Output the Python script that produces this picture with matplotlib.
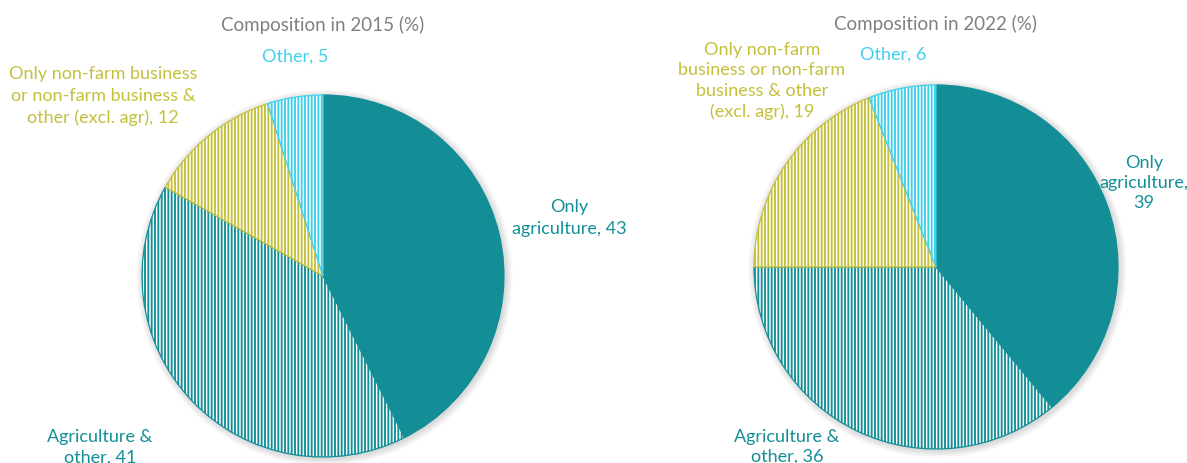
import textwrap

import matplotlib.pyplot as plt
from matplotlib.patches import Circle

plt.rcParams["font.family"] = ["Lato", "DejaVu Sans"]
plt.rcParams["hatch.linewidth"] = 1.35

# Household income-source composition (%)
categories = [
    "Only agriculture",
    "Agriculture & other",
    "Only non-farm business or non-farm business & other (excl. agr)",
    "Other",
]
values_2015 = [43, 41, 12, 5]
values_2022 = [39, 36, 19, 6]
titles = ["Composition in 2015 (%)", "Composition in 2022 (%)"]

TEAL = "#138e97"
OLIVE = "#c4c03c"
CYAN = "#3fd0ec"
colors = [TEAL, TEAL, OLIVE, CYAN]
hatched = [False, True, True, True]

W, H = 1187, 463


def draw_pie(ax, values, title, center, radius, title_y, label_pos, wrap):
    cx, cy = center[0], H - center[1]

    # soft shadow behind the disc
    for k in range(6):
        ax.add_patch(Circle((cx + 1.5, cy - 1.5), radius + 1 + k * 1.2,
                            facecolor="#000000", edgecolor="none",
                            alpha=0.025, zorder=0))

    wedges, _ = ax.pie(values, center=(cx, cy), radius=radius,
                       startangle=90, counterclock=False, frame=True,
                       normalize=True)
    for w, c, h in zip(wedges, colors, hatched):
        w.set_zorder(2)
        w.set_linewidth(0.9)
        if h:
            w.set_facecolor("white")
            w.set_edgecolor(c)
            if hasattr(w, "set_hatchcolor"):
                w.set_hatchcolor(c)
            w.set_hatch("|||||")
        else:
            w.set_facecolor(c)
            w.set_edgecolor(c)

    ax.text(center[0], H - title_y, title, ha="center", va="center",
            fontsize=13.5, color="#808080")

    for name, v, c, (x, y, ls), width in zip(categories, values, colors,
                                            label_pos, wrap):
        text = f"{name}, {v}"
        if width:
            text = textwrap.fill(text, width)
        ax.text(x, H - y, text, ha="center", va="center", fontsize=13,
                color=c, linespacing=ls, multialignment="center")


fig = plt.figure(figsize=(W / 100, H / 100), dpi=100)
ax = fig.add_axes([0, 0, 1, 1])

draw_pie(ax, values_2015, titles[0], (323, 276), 181, 25,
         [(569, 218, 1.5), (100, 447, 1.35), (103, 96, 1.45), (295, 57, 1.2)],
         [15, 14, 24, 0])
draw_pie(ax, values_2022, titles[1], (936, 267), 182, 24,
         [(1144, 183, 1.3), (787, 447, 1.3), (762, 81, 1.33), (893, 55, 1.2)],
         [12, 14, 20, 0])

ax.set_xlim(0, W)
ax.set_ylim(0, H)
ax.set_aspect("auto")
ax.axis("off")

fig.savefig("out.png", dpi=100)
